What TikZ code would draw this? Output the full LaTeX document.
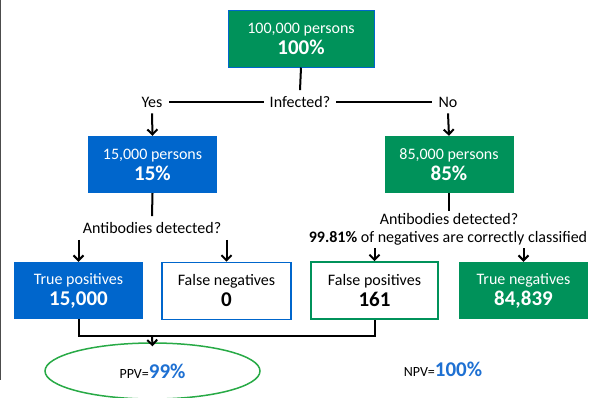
\documentclass[tikz,border=0pt]{standalone}
\usepackage{fontspec}
\setmainfont{Carlito}
\usetikzlibrary{arrows.meta, shapes.geometric}
\definecolor{boxgreen}{RGB}{0,146,90}
\definecolor{boxblue}{RGB}{0,102,204}
\definecolor{ringgreen}{RGB}{40,170,70}
\definecolor{valblue}{RGB}{30,112,210}
\tikzset{
  box/.style={minimum width=129pt, minimum height=57pt, inner sep=0, align=center, text=white, font=\fontsize{16}{21}\selectfont},
  greenbox/.style={box, fill=boxgreen},
  bluebox/.style={box, fill=boxblue},
  outbox/.style={box, fill=white, text=black, line width=1.8pt},
  txt/.style={inner sep=6pt, font=\fontsize{16}{19}\selectfont},
  arr/.style={-{Straight Barb[length=5pt,width=10pt]}, line width=2pt},
  lnk/.style={line width=2pt},
}
\newcommand{\bignum}[1]{{\bfseries\fontsize{21}{24}\selectfont #1}}

\begin{document}
\begin{tikzpicture}[x=1pt, y=-1pt]
\useasboundingbox (0,0) rectangle (595,397);
\draw[gray!60!black, line width=1pt] (0.5,0)--(0.5,380);
% top of the tree
\node[greenbox, draw=boxblue, line width=1pt, minimum width=146pt] (all) at (301,38.5) {100,000 persons\\\bignum{100\%}};
\node[txt] (infected) at (300,102) {Infected?};
\node[txt] (yes) at (152,102) {Yes};
\node[txt] (no) at (448,102) {No};
\draw[lnk] (all.south) -- (infected.north);
\draw[lnk] (infected.west) -- (yes.east);
\draw[lnk] (infected.east) -- (no.west);
% infected / not infected
\node[bluebox] (pos) at (152.5,164.5) {15,000 persons\\\bignum{15\%}};
\node[greenbox] (neg) at (449,164.5) {85,000 persons\\\bignum{85\%}};
\draw[arr] (yes.south) -- (pos.north);
\draw[arr] (no.south) -- (neg.north);
\node[txt] (testL) at (152,228) {Antibodies detected?};
\node[txt, inner sep=2pt] (testR) at (449,219) {Antibodies detected?};
\node[txt, inner sep=3pt] (spec) at (448,238) {\textbf{99.81\%} of negatives are correctly classified};
\draw[lnk] (pos.south) -- (testL.north);
\draw[lnk] (neg.south) -- (testR.north);
% outcomes
\node[bluebox] (tp) at (78.5,290.5) {True positives\\\bignum{15,000}};
\node[outbox, draw=boxblue] (fn) at (226.5,291) {False negatives\\\bignum{0}};
\node[outbox, draw=boxgreen, minimum width=127pt] (fp) at (374.5,290.5) {False positives\\\bignum{161}};
\node[greenbox] (tn) at (523.5,290.5) {True negatives\\\bignum{84,839}};
\draw[arr] (testL.south -| tp.north) -- (tp.north);
\draw[arr] (testL.south -| fn.north) -- (fn.north);
\draw[arr] (spec.south -| fp.north) -- (fp.north);
\draw[arr] (spec.south -| tn.north) -- (tn.north);
% predictive values
\coordinate (join) at (152,336);
\node[ellipse, draw=ringgreen, line width=1.5pt, minimum width=215pt, minimum height=56pt] (ppv) at (152.5,371) {};
\node (ppvtxt) at (152.5,371) {\fontsize{14}{16}\selectfont PPV=\textcolor{valblue}{\bignum{99\%}}};
\node (npv) at (443,369) {\fontsize{14}{16}\selectfont NPV=\textcolor{valblue}{\bignum{100\%}}};
\draw[lnk] (tp.south) |- (join) -| (fp.south);
\draw[arr] (join) -- ([yshift=-4pt]ppv.north);
\end{tikzpicture}
\end{document}
